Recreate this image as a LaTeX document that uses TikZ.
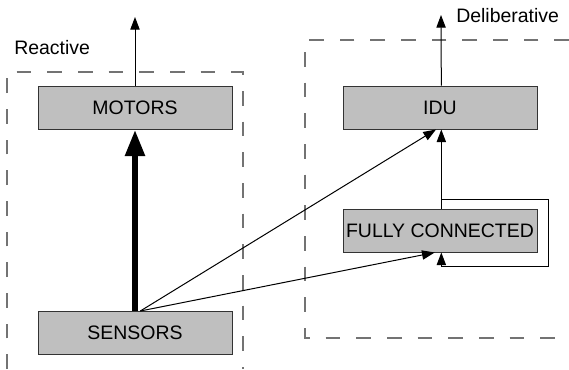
\documentclass[tikz,border=0pt]{standalone}
\usepackage{fontspec}
\setmainfont{Liberation Sans}
\usetikzlibrary{arrows.meta}
\begin{document}
\begin{tikzpicture}[x=0.75pt,y=-0.75pt,
  blk/.style={draw=black!80,fill=black!25,line width=0.75pt,minimum width=145.5pt,minimum height=32.25pt,inner sep=0pt,font=\fontsize{14.6}{17}\selectfont},
  lbl/.style={inner sep=0pt,anchor=west,font=\fontsize{14.6}{17}\selectfont},
  region/.style={draw=black!55,line width=1.1pt,dash pattern=on 11pt off 12pt},
  thin/.style={draw=black,line width=0.75pt,-{Triangle[length=9.5pt,width=7pt]}},
  thick/.style={draw=black,line width=4.8pt,-{Triangle[length=20pt,width=14pt]}}]
\useasboundingbox (0,0) rectangle (569,369);
\fill[white] (0,0) rectangle (569,369);
% regions
\draw[region] (7,369) -- (7,72) -- (243,72) -- (243,369);
\draw[region] (569,40) -- (305,40) -- (305,338) -- (569,338);
\node[lbl] (reactive) at (14,48) {Reactive};
\node[lbl] (delib) at (456,16) {Deliberative};
% blocks
\node[blk] (motors) at (135,107.5) {MOTORS};
\node[blk] (sensors) at (135,333) {SENSORS};
\node[blk] (idu) at (440,107.5) {IDU};
\node[blk] (fc) at (440,230.5) {FULLY CONNECTED};
\coordinate (mout) at (135,17);
\coordinate (iout) at (441,15);
\coordinate (lr1) at (548,199);
\coordinate (lr2) at (548,266);
% connectors
\draw[thin] (motors.north) -- (mout);
\draw[thin] ([xshift=1]idu.north) -- (iout);
\draw[thick] (sensors.north) -- (motors.south);
\draw[thin] ([xshift=4]sensors.north) -- ([xshift=-3]idu.south);
\draw[thin] ([xshift=4]sensors.north) -- ([xshift=-4]fc.south);
\draw[thin] ([xshift=1]fc.north) -- ([xshift=1]idu.south);
\draw[thin] ([xshift=1]fc.north) |- (lr1) -- (lr2) -| ([xshift=1]fc.south);
\end{tikzpicture}
\end{document}
